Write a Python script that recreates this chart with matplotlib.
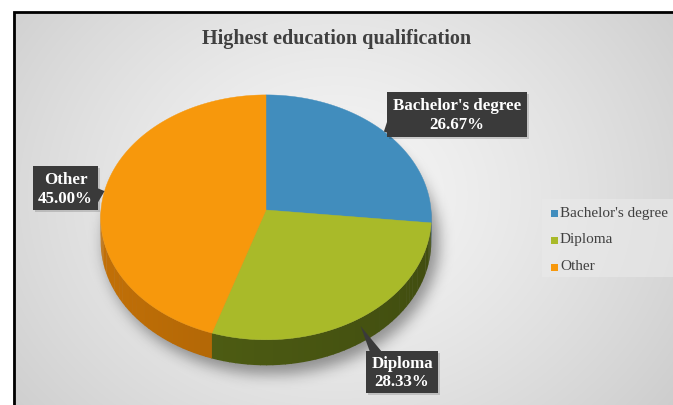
import numpy as np
import matplotlib
matplotlib.use("Agg")
import matplotlib.pyplot as plt
from matplotlib.patches import Polygon, Rectangle

# Daten
categories = ["Bachelor's degree", "Diploma", "Other"]
shares = [26.67, 28.33, 45.00]
top_colors = ["#418dbd", "#a9ba29", "#f7980c"]
side_colors = ["#2c6790", "#4a5812", "#ad6406"]

# Geometrie der 3D-Torte (Pixelkoordinaten)
W, H = 673, 405
CX, CY = 266, 210
RX, RY = 165, 122
DEPTH = 24
K = 0.06  # Perspektive

plt.rcParams['font.family'] = ['Liberation Serif', 'DejaVu Serif']

fig = plt.figure(figsize=(W / 100, H / 100), dpi=100)
ax = fig.add_axes([0, 0, 1, 1])
ax.set_xlim(0, W)
ax.set_ylim(H, 0)
ax.axis('off')


def proj(theta, drop=0.0):
    t = np.radians(theta)
    u, v = np.sin(t), np.cos(t)
    s = 1.0 / (1.0 + K * v)
    return CX + RX * u * s, CY - RY * v * s + drop * s


# Hintergrund: radialer Verlauf
yy, xx = np.mgrid[0:H, 0:W]
r = np.hypot(xx - 335, (yy - 195) * 1.2) / 400
gray = np.clip(246 - 38 * r ** 1.3, 0, 255) / 255
bg = np.dstack([gray, gray, gray])
bg[:12, :, :] = 1.0
bg[:, :13, :] = 1.0
ax.imshow(bg, extent=[0, W, H, 0], zorder=0, interpolation='bilinear')

# Schatten unter der Torte
mask = (((xx - (CX + 5)) / (RX + 3)) ** 2 + ((yy - (CY + DEPTH + 8)) / (RY + 10)) ** 2 <= 1).astype(float)
sig = 7
kx = np.arange(-3 * sig, 3 * sig + 1)
kern = np.exp(-kx ** 2 / (2 * sig ** 2))
kern /= kern.sum()
blur = np.array([np.convolve(row, kern, mode='same') for row in mask])
blur = np.array([np.convolve(col, kern, mode='same') for col in blur.T]).T
shadow = np.zeros((H, W, 4))
shadow[..., 3] = 0.38 * blur
ax.imshow(shadow, extent=[0, W, H, 0], zorder=1, interpolation='bilinear')

# Winkel der Segmente (im Uhrzeigersinn ab 12 Uhr)
total = sum(shares)
bounds = np.concatenate([[0], np.cumsum(shares) / total * 360])

# Seitenflächen (nur vorderer Teil sichtbar)
for i in range(len(shares)):
    a, b = max(bounds[i], 90), min(bounds[i + 1], 270)
    if b <= a:
        continue
    base = np.array(matplotlib.colors.to_rgb(side_colors[i]))
    steps = np.linspace(a, b, max(int((b - a) / 2), 2) + 1)
    for t0, t1 in zip(steps[:-1], steps[1:]):
        tm = (t0 + t1) / 2
        shade = 1.0 - 0.12 * np.sin(np.radians(tm))
        ts = np.linspace(t0, t1 + 0.3, 4)
        top = [proj(t) for t in ts]
        bot = [proj(t, DEPTH) for t in ts[::-1]]
        ax.add_patch(Polygon(top + bot, closed=True, facecolor=np.clip(base * shade, 0, 1),
                             edgecolor='none', zorder=2))

# Oberseite
for i in range(len(shares)):
    ts = np.linspace(bounds[i], bounds[i + 1], 120)
    pts = [(CX, CY)] + [proj(t) for t in ts]
    ax.add_patch(Polygon(pts, closed=True, facecolor=top_colors[i], edgecolor=top_colors[i],
                         linewidth=0.3, zorder=3))

# Datenbeschriftungen mit Legendenzeiger
box_col = '#3a3a3a'
labels = [(categories[i], f"{shares[i]:.2f}%") for i in range(len(shares))]
boxes = [(387, 92, 140, 45), (366, 351, 72, 42), (33, 166, 65, 44)]
tip_drop = [0, 8, 0]
for i, (name, pct) in enumerate(labels):
    mid = (bounds[i] + bounds[i + 1]) / 2
    tx, ty = proj(mid, tip_drop[i])
    bx, by, bw, bh = boxes[i]
    if i == 0:
        base = [(bx + 1, by + bh - 18), (bx + 1, by + bh - 4)]
    elif i == 1:
        base = [(bx + 4, by + 1), (bx + 16, by + 1)]
    else:
        base = [(bx + bw - 1, by + bh - 22), (bx + bw - 1, by + bh - 6)]
    ax.add_patch(Rectangle((bx + 2, by + 2), bw, bh, facecolor='black', alpha=0.15,
                           edgecolor='none', zorder=4))
    ax.add_patch(Polygon([(tx, ty)] + base, closed=True, facecolor=box_col,
                         edgecolor='none', zorder=5))
    ax.add_patch(Rectangle((bx, by), bw, bh, facecolor=box_col, edgecolor='none', zorder=5))
    ax.text(bx + bw / 2, by + bh * 0.32, name, color='white', fontsize=12.2, fontweight='bold',
            ha='center', va='center', zorder=6)
    ax.text(bx + bw / 2, by + bh * 0.74, pct, color='white', fontsize=12.2, fontweight='bold',
            ha='center', va='center', zorder=6)

# Titel
ax.text(337, 39, "Highest education qualification", fontsize=14.5, fontweight='bold',
        color='#404040', ha='center', va='center', zorder=6)

# Legende
ax.add_patch(Rectangle((542, 199), W - 542, 78, facecolor='#eaeaea', alpha=0.6,
                       edgecolor='none', zorder=4))
for i, name in enumerate(categories):
    ly = 213 + i * 27
    ax.add_patch(Rectangle((551, ly - 3.5), 7, 7, facecolor=top_colors[i], edgecolor='none', zorder=5))
    ax.text(560, ly, name, fontsize=11, color='#404040', ha='left', va='center', zorder=6)

# Rahmen
ax.plot([13.5, 13.5, W], [H, 12, 12], color='black', linewidth=2.0, zorder=7,
        solid_joinstyle='miter')

fig.savefig("out.png", dpi=100)
